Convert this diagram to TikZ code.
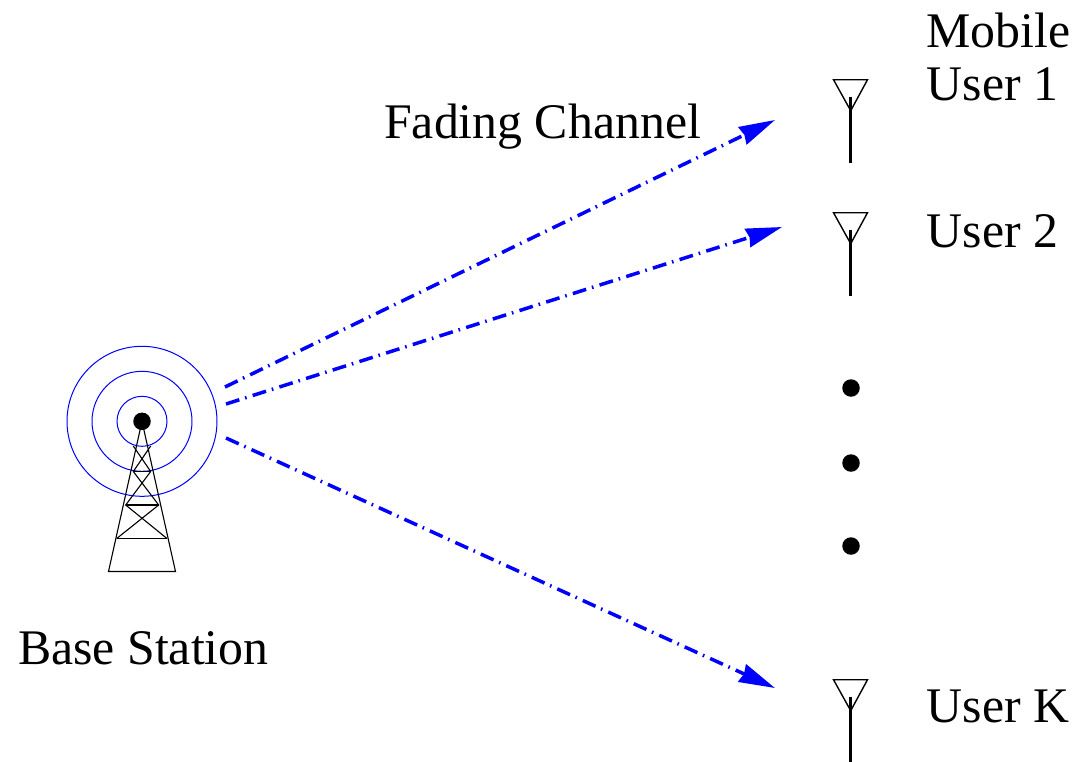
\documentclass[tikz,border=0pt]{standalone}
\usepackage{fontspec}
\setmainfont{Liberation Serif}
\usetikzlibrary{arrows.meta}
\tikzset{
  lbl/.style={anchor=base west,inner sep=0pt,font=\fontsize{49.8}{54}\selectfont},
  wave/.style={draw=blue,line width=1pt},
  tower/.style={draw=black,line width=1.1pt,line join=miter},
  link/.style={draw=blue,line width=3.5pt,dash pattern=on 14pt off 6pt on 1.6pt off 6.4pt,
    -{Stealth[length=36pt,width=19pt,inset=2pt,fill=blue]}},
  dotn/.style={circle,fill=black,inner sep=0pt,minimum size=17.5pt},
  mast/.style={draw=black,line width=3.2pt},
  dish/.style={draw=black,line width=1.4pt,line join=miter}
}
\newcommand{\antenna}[2]{%
  \begin{scope}[shift={(#1,#2)}]
    \draw[dish] (-17.2,0) -- (16.8,0) -- (0,31) -- cycle;
    \draw[mast] (0,17) -- (0,83);
  \end{scope}}
\begin{document}
\begin{tikzpicture}[x=1pt,y=-1pt]
\useasboundingbox (0,0) rectangle (1079,761);
% base station
\draw[wave] (142,421.3) circle[radius=25];
\draw[wave] (142,421.3) circle[radius=50];
\draw[wave] (142,421.3) circle[radius=75];
\draw[tower] (142,421.3) -- (108.5,571.5) -- (175.5,571.5) -- cycle;
\draw[tower] (133.3,471.5) -- (150.7,471.5);
\draw[tower] (125.7,505) -- (158.7,505);
\draw[tower] (116.7,538.5) -- (167,538.5);
\draw[tower] (133.3,446) -- (150.7,471.5) -- (125.7,505) -- (167,538.5);
\draw[tower] (150.7,446) -- (133.3,471.5) -- (158.7,505) -- (116.7,538.5);
\node[dotn] (bs) at (142,421.3) {};
% antennas
\antenna{850.7}{79.7}
\antenna{850.7}{212.7}
\antenna{850.7}{679.7}
% dots
\node[dotn] (d1) at (851,388) {};
\node[dotn] (d2) at (851,463) {};
\node[dotn] (d3) at (851,546) {};
% channels
\coordinate (s1) at (225,387);
\coordinate (s2) at (226,404);
\coordinate (s3) at (226,438);
\coordinate (t1) at (775,120);
\coordinate (t2) at (782,227);
\coordinate (t3) at (775,688);
\draw[link] (s1) -- (t1);
\draw[link] (s2) -- (t2);
\draw[link] (s3) -- (t3);
% labels
\node[lbl] (mob) at (926.5,47.5) {Mobile};
\node[lbl] (u1) at (926.5,100.5) {User 1};
\node[lbl] (u2) at (926.5,247.5) {User 2};
\node[lbl] (uk) at (926.5,722.5) {User K};
\node[lbl] (fc) at (384,138) {Fading Channel};
\node[lbl] (bl) at (18,664) {Base Station};
\end{tikzpicture}
\end{document}
